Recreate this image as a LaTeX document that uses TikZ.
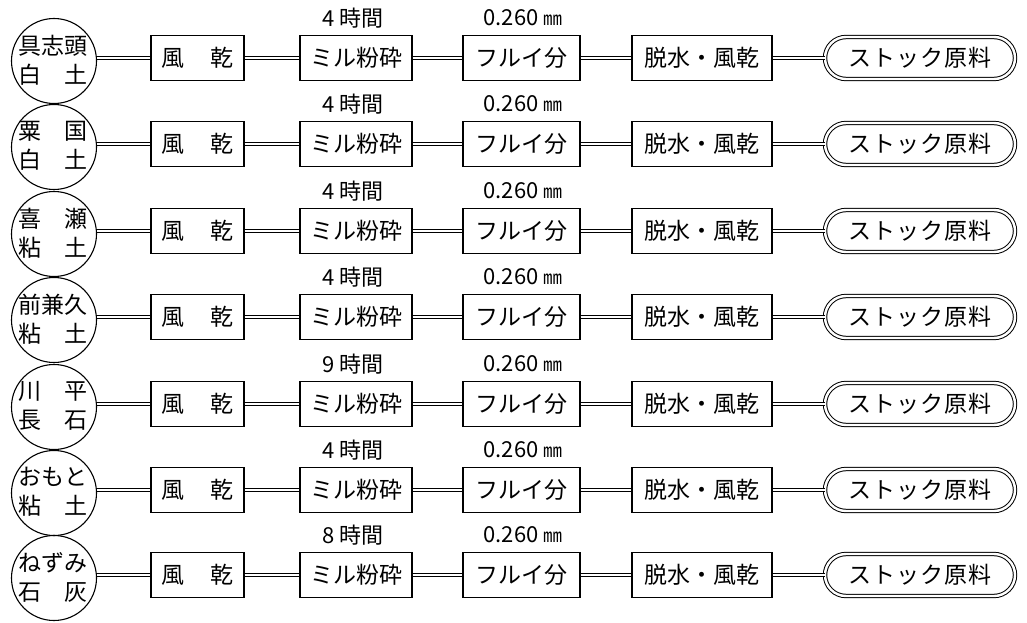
\documentclass[tikz,border=0pt]{standalone}
\usepackage{fontspec}
\setmainfont{Noto Sans CJK JP}
\usetikzlibrary{shapes.misc}
\begin{document}
\begin{tikzpicture}[x=1pt,y=-1pt,
  proc/.style={draw, line width=1.1pt, minimum height=45pt, inner sep=0pt, font=\fontsize{23}{23}\selectfont},
  src/.style={draw, circle, line width=1.1pt, minimum size=85pt, inner sep=0pt},
  srctext/.style={align=center, inner sep=0pt, font=\fontsize{23}{29}\selectfont},
  stock/.style={draw, line width=1pt, double=white, double distance=2.4pt, rounded rectangle, minimum width=190pt, minimum height=42pt, inner sep=0pt, font=\fontsize{23}{23}\selectfont\addfontfeature{LetterSpace=4}},
  link/.style={draw, line width=0.8pt, double=white, double distance=1.6pt},
  lbl/.style={inner sep=0pt, font=\fontsize{22}{22}\selectfont}]
\useasboundingbox (0,0) rectangle (1027,623);
\foreach \y/\a/\b/\h [count=\i] in {
  58/具\hfill{}志\hfill{}頭/白\hfill{}土/4,
  144/粟\hfill{}国/白\hfill{}土/4,
  231/喜\hfill{}瀬/粘\hfill{}土/4,
  317/前\hfill{}兼\hfill{}久/粘\hfill{}土/4,
  404/川\hfill{}平/長\hfill{}石/9,
  490/お\hfill{}も\hfill{}と/粘\hfill{}土/4,
  575/ね\hfill{}ず\hfill{}み/石\hfill{}灰/8}{
  \node[src] (c\i) at (54,\y+3) {};
  \node[srctext] (t\i) at (53,\y+2) {\makebox[70pt]{\a}\\\makebox[70pt]{\b}};
  \node[proc, minimum width=93pt] (f\i) at (197.5,\y) {風\hspace{26pt}乾};
  \node[proc, minimum width=112pt] (m\i) at (356,\y) {ミル粉砕};
  \node[proc, minimum width=117pt] (s\i) at (521.5,\y) {フルイ分};
  \node[proc, minimum width=140pt] (d\i) at (702,\y) {脱水・風乾};
  \node[stock] (k\i) at (920,\y) {ストック原料};
  \node[lbl] (h\i) at (353,\y-40) {\h\ 時間};
  \node[lbl] (r\i) at (523,\y-40) {0.260 {\fontsize{19}{19}\selectfont ㎜}};
  \draw[link] (c\i.east |- f\i.west) -- (f\i.west);
  \draw[link] (f\i) -- (m\i);
  \draw[link] (m\i) -- (s\i);
  \draw[link] (s\i) -- (d\i);
  \draw[link] (d\i) -- (k\i);
}
\end{tikzpicture}
\end{document}
